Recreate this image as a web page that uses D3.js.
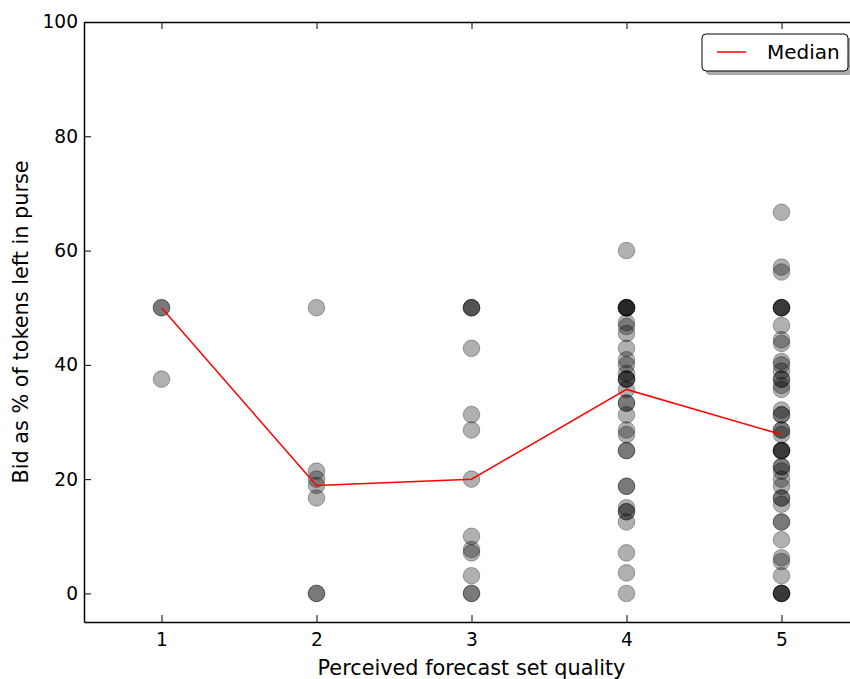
<!DOCTYPE html>
<html>
<head>
<meta charset="utf-8">
<title></title>
<script src="https://d3js.org/d3.v7.min.js"></script>
<style>
body { margin: 0; background: #fff; }
svg { display: block; overflow: hidden; }
text { font-family: "DejaVu Sans", sans-serif; fill: #000; }
</style>
</head>
<body>
<div id="chart"></div>
<script type="text/javascript">
// perceived quality (x) and the bids at each level (% of tokens left)
var quality = [1, 2, 3, 4, 5];
var bids1 = [50, 50, 37.5];
var bids2 = [0, 0, 16.7, 18.9, 20, 21.4, 50];
var bids3 = [0, 0, 3.1, 7.1, 7.7, 10, 20, 28.6, 31.3, 42.9, 50, 50, 50];
var bids4 = [0, 3.6, 7.1, 12.5, 14.3, 14.3, 15, 18.75, 18.75, 25, 25, 27.8, 28.6, 31.25, 33.3, 33.3,
  35.7, 37.5, 37.5, 37.5, 38.5, 40, 40.9, 42.9, 45.5, 46.7, 47.4, 50, 50, 50, 50, 50, 60];
var bids5 = [0, 0, 0, 0, 3.1, 5.6, 6.25, 9.4, 12.5, 12.5, 15.6, 16.7, 16.7, 18.75, 20, 21.4, 22.2, 22.2,
  25, 25, 25, 25, 27.8, 28.6, 28.6, 31.25, 31.25, 32.1, 35.7, 36.4, 37.5, 37.5, 38.9, 40, 40.6,
  43.75, 44.4, 46.9, 50, 50, 50, 50, 56.25, 57.1, 66.7];
var allBids = [bids1, bids2, bids3, bids4, bids5];
var yTicks = [0, 20, 40, 60, 80, 100];

var width = 850, height = 679;
var margin = {top: 22, left: 84};
var plotW = 775, plotH = 600;

var svg = d3.select("#chart").append("svg")
    .attr("width", width)
    .attr("height", height);

var g = svg.append("g")
    .attr("transform", "translate(" + margin.left + "," + margin.top + ")");

var x = d3.scaleLinear().domain([0.5, 5.5]).range([0, plotW]);
var y = d3.scaleLinear().domain([-5, 100]).range([plotH, 0]);

// points
var points = [];
quality.forEach(function(q, i) {
  allBids[i].forEach(function(b) { points.push({q: q, b: b}); });
});

g.append("g").selectAll("circle")
  .data(points)
  .enter().append("circle")
    .attr("cx", function(d) { return x(d.q); })
    .attr("cy", function(d) { return y(d.b); })
    .attr("r", 8.3)
    .attr("fill", "#000")
    .attr("fill-opacity", 0.31)
    .attr("stroke", "#000")
    .attr("stroke-opacity", 0.31)
    .attr("stroke-width", 1);

// median line
var medians = quality.map(function(q, i) { return {q: q, m: d3.median(allBids[i])}; });
g.append("path")
  .datum(medians)
  .attr("fill", "none")
  .attr("stroke", "red")
  .attr("stroke-width", 1.5)
  .attr("d", d3.line()
    .x(function(d) { return x(d.q); })
    .y(function(d) { return y(d.m); }));

// axes (classic style: ticks inside)
var tickLen = 7;
var xb = g.append("g")
  .attr("transform", "translate(0," + plotH + ")")
  .call(d3.axisBottom(x).tickValues(quality).tickFormat(d3.format("d")).tickSizeInner(-tickLen).tickSizeOuter(0).tickPadding(11));
var xt = g.append("g")
  .call(d3.axisTop(x).tickValues(quality).tickFormat("").tickSizeInner(-tickLen).tickSizeOuter(0));
var yl = g.append("g")
  .call(d3.axisLeft(y).tickValues(yTicks).tickSizeInner(-tickLen).tickSizeOuter(0).tickPadding(6));
var yr = g.append("g")
  .attr("transform", "translate(" + plotW + ",0)")
  .call(d3.axisRight(y).tickValues(yTicks).tickFormat("").tickSizeInner(-tickLen).tickSizeOuter(0));

[xb, xt, yl, yr].forEach(function(a) {
  a.attr("font-size", null).attr("font-family", null);
  a.selectAll(".domain").attr("stroke", "#000").attr("stroke-width", 1.5);
  a.selectAll(".tick line").attr("stroke", "#000").attr("stroke-width", 1);
  a.selectAll(".tick text").style("font-size", "18.6px");
});

// axis labels
svg.append("text")
  .attr("x", margin.left + plotW / 2)
  .attr("y", 675)
  .attr("text-anchor", "middle")
  .style("font-size", "20.8px")
  .text("Perceived forecast set quality");

svg.append("text")
  .attr("transform", "translate(28," + (margin.top + plotH / 2) + ") rotate(-90)")
  .attr("text-anchor", "middle")
  .style("font-size", "20.8px")
  .text("Bid as % of tokens left in purse");

// legend with shadow
var lg = svg.append("g").attr("transform", "translate(702,34)");
lg.append("rect")
  .attr("x", 4).attr("y", 4).attr("width", 146).attr("height", 37).attr("rx", 4)
  .attr("fill", "#888").attr("opacity", 0.7);
lg.append("rect")
  .attr("width", 146).attr("height", 37).attr("rx", 4)
  .attr("fill", "#fff").attr("stroke", "#000").attr("stroke-width", 1);
lg.append("line")
  .attr("x1", 15).attr("x2", 44).attr("y1", 18).attr("y2", 18)
  .attr("stroke", "red").attr("stroke-width", 1.5);
lg.append("text")
  .attr("x", 65).attr("y", 25)
  .style("font-size", "20px")
  .text("Median");
</script>
</body>
</html>
